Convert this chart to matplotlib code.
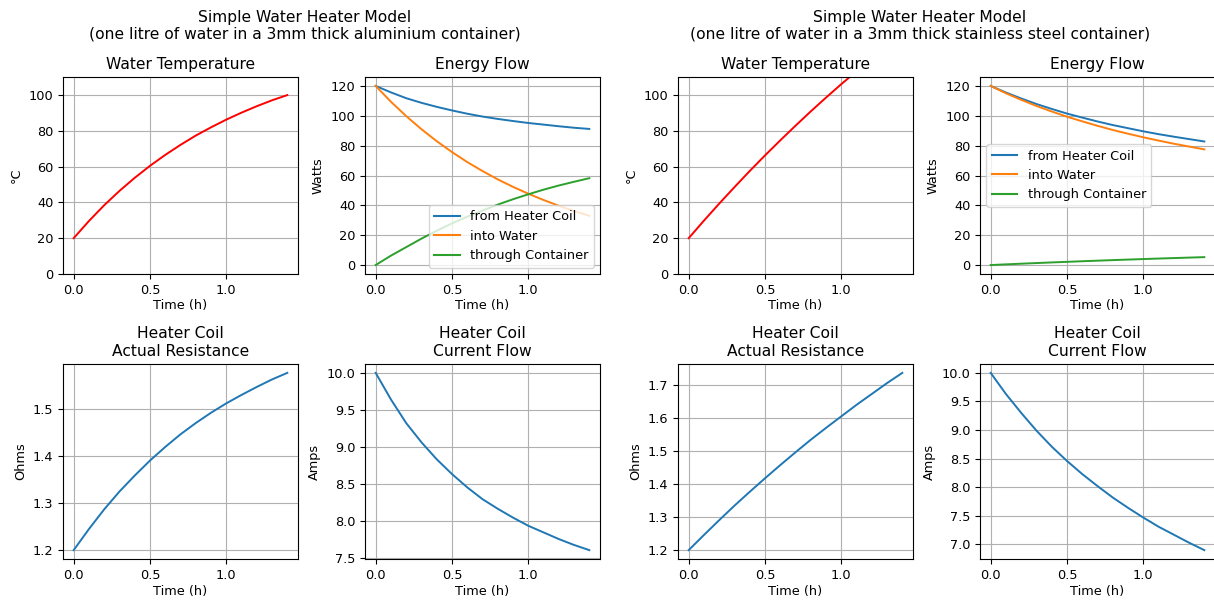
import matplotlib
matplotlib.use('Agg')
import matplotlib.pyplot as plt

plt.rcParams['font.size'] = 9.3

# time samples (h)
t = [0.0, 0.1, 0.2, 0.3, 0.4, 0.5, 0.6, 0.7, 0.8, 0.9, 1.0, 1.1, 1.2, 1.3, 1.4]

# aluminium container
al_temp = [20, 29.6, 38.4, 46.4, 53.7, 60.4, 66.5, 72.1, 77.3, 81.9, 86.2, 90.1, 93.7, 97.0, 99.9]
al_coil = [120, 115.7, 111.8, 108.7, 106.0, 103.6, 101.4, 99.5, 97.9, 96.5, 95.2, 94.1, 93.0, 92.0, 91.2]
al_water = [120, 109.4, 99.8, 91.0, 83.0, 75.7, 69.0, 63.0, 57.4, 52.4, 47.8, 43.6, 39.7, 36.2, 33.0]
al_cont = [0, 6.3, 12.0, 17.7, 23.0, 27.9, 32.4, 36.5, 40.5, 44.1, 47.4, 50.5, 53.3, 55.8, 58.2]
al_res = [1.2, 1.245, 1.287, 1.325, 1.359, 1.391, 1.420, 1.447, 1.471, 1.493, 1.513, 1.531, 1.548, 1.564, 1.578]
al_amps = [10.0, 9.64, 9.32, 9.06, 8.83, 8.63, 8.45, 8.29, 8.16, 8.04, 7.93, 7.84, 7.75, 7.67, 7.60]

# stainless steel container
ss_temp = [20, 29.8, 39.3, 48.5, 57.5, 66.2, 74.6, 82.8, 90.8, 98.5, 106.0, 113.2, 120.3, 127.1, 133.8]
ss_coil = [120, 115.6, 111.6, 107.9, 104.6, 101.5, 98.8, 96.2, 93.8, 91.7, 89.6, 87.7, 86.0, 84.4, 82.8]
ss_water = [120, 115.1, 110.7, 106.6, 102.9, 99.4, 96.3, 93.3, 90.5, 88.0, 85.6, 83.4, 81.3, 79.4, 77.5]
ss_cont = [0, 0.46, 0.90, 1.33, 1.75, 2.15, 2.55, 2.93, 3.30, 3.66, 4.01, 4.35, 4.67, 4.99, 5.30]
ss_res = [1.2, 1.246, 1.291, 1.335, 1.377, 1.418, 1.458, 1.497, 1.535, 1.571, 1.606, 1.641, 1.674, 1.707, 1.738]
ss_amps = [10.0, 9.63, 9.30, 8.99, 8.71, 8.46, 8.23, 8.02, 7.82, 7.64, 7.47, 7.31, 7.17, 7.03, 6.90]

models = [
    ('aluminium', al_temp, al_coil, al_water, al_cont, al_res, al_amps, 'lower right'),
    ('stainless steel', ss_temp, ss_coil, ss_water, ss_cont, ss_res, ss_amps, 'center left'),
]

W, H = 1214, 601
fig = plt.figure(figsize=(W / 100, H / 100), dpi=100)


def axes_px(x0, y0, x1, y1):
    return fig.add_axes([x0 / W, 1 - y1 / H, (x1 - x0) / W, (y1 - y0) / H])


for k, (mat, temp, coil, water, cont, res, amps, legloc) in enumerate(models):
    dx = 0 if k == 0 else 615
    fig.text((305 + dx) / W, 1 - 26 / H,
             'Simple Water Heater Model\n(one litre of water in a 3mm thick %s container)' % mat,
             ha='center', va='center', fontsize=11.2, linespacing=1.15)

    ax = axes_px(63 + dx, 77, 298 + dx, 274)
    ax.plot(t, temp, 'r')
    ax.set_ylim(0, 110)
    ax.set_title('Water Temperature', fontsize=11.2)
    ax.set_ylabel('°C')

    ax = axes_px(365 + dx, 77, 600 + dx, 274)
    ax.plot(t, coil, label='from Heater Coil')
    ax.plot(t, water, label='into Water')
    ax.plot(t, cont, label='through Container')
    ax.set_title('Energy Flow', fontsize=11.2)
    ax.set_ylabel('Watts')
    ax.legend(loc=legloc)

    ax = axes_px(63 + dx, 364, 298 + dx, 559)
    ax.plot(t, res)
    ax.set_title('Heater Coil\nActual Resistance', fontsize=11.2)
    ax.set_ylabel('Ohms')

    ax = axes_px(365 + dx, 364, 600 + dx, 559)
    ax.plot(t, amps)
    ax.set_title('Heater Coil\nCurrent Flow', fontsize=11.2)
    ax.set_ylabel('Amps')

for ax in fig.axes:
    ax.grid(True)
    ax.set_xlabel('Time (h)', labelpad=2)
    ax.set_xticks([0.0, 0.5, 1.0])
    for ln in ax.lines:
        ln.set_linewidth(1.4)

fig.savefig('out.png', dpi=100)
